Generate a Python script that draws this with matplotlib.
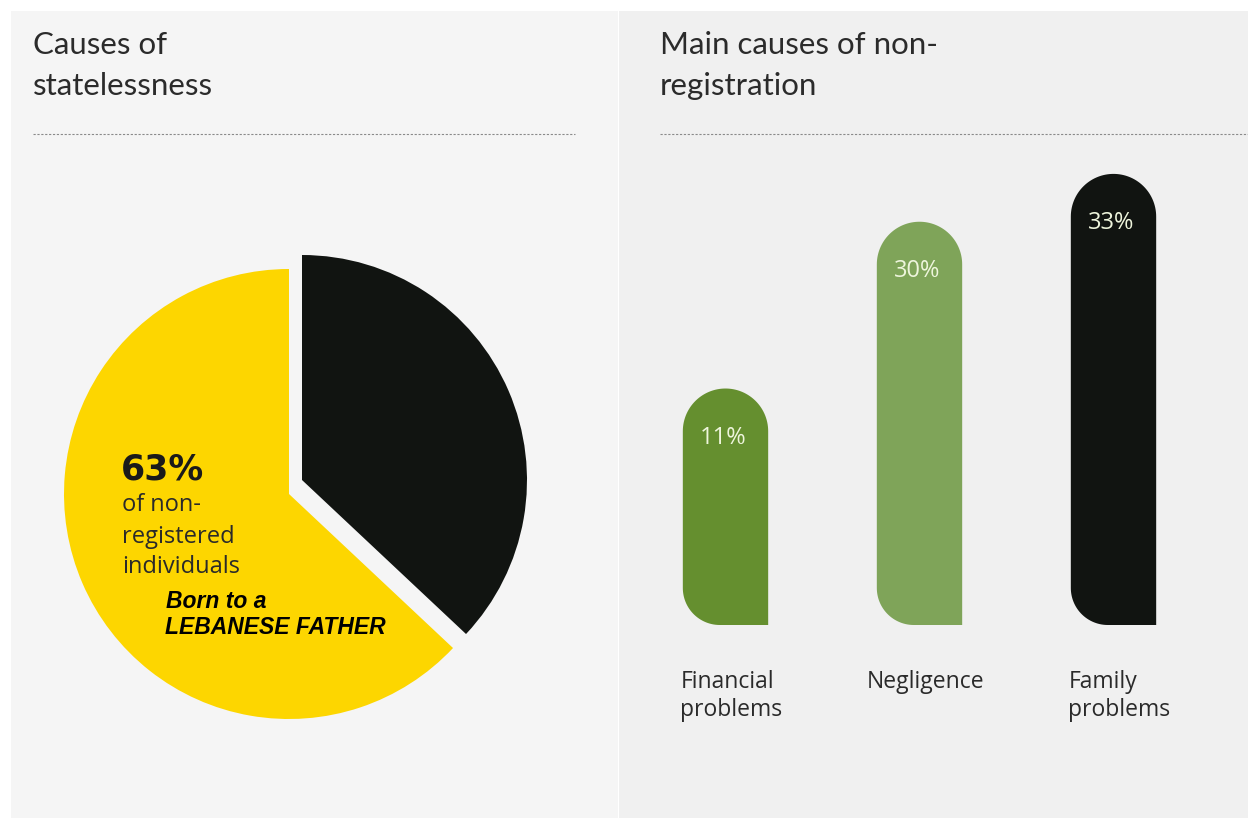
import numpy as np
import matplotlib
matplotlib.use("Agg")
import matplotlib.pyplot as plt
from matplotlib.patches import Rectangle, Polygon
from matplotlib.lines import Line2D

# pie: causes of statelessness
pie_values = [63, 37]
pie_colors = ["#fdd600", "#111411"]

# bars: main causes of non-registration
categories = ["Financial\nproblems", "Negligence", "Family\nproblems"]
bar_labels = ["11%", "30%", "33%"]
bar_lengths = [17.3, 29.5, 33.0]   # drawn lengths as they appear in the picture
bar_colors = ["#658f2f", "#7fa459", "#111411"]

W, H = 1248, 818
fig = plt.figure(figsize=(W / 100, H / 100), dpi=100)
fig.patch.set_facecolor("white")


def fx(px):
    return px / W


def fy(py):
    return 1 - py / H


# panel backgrounds (behind the axes)
fig.patches.append(Rectangle((fx(11), 0), fx(618 - 11), fy(11), transform=fig.transFigure,
                             facecolor="#f5f5f5", edgecolor="none", zorder=-5))
fig.patches.append(Rectangle((fx(619), 0), fx(W - 619), fy(11), transform=fig.transFigure,
                             facecolor="#f0f0f0", edgecolor="none", zorder=-5))

title_kw = dict(fontsize=22.5, color="#2b2b2b", family="Lato", fontweight="normal",
                va="center", ha="left")
fig.text(fx(33), fy(45), "Causes of", **title_kw)
fig.text(fx(33), fy(86), "statelessness", **title_kw)
fig.text(fx(660), fy(45), "Main causes of non-", **title_kw)
fig.text(fx(660), fy(86), "registration", **title_kw)

for x0, x1 in [(33, 575), (660, 1248)]:
    fig.lines.append(Line2D([fx(x0), fx(x1)], [fy(134), fy(134)], transform=fig.transFigure,
                            color="#8a8a8a", lw=0.8, dashes=(2, 1.5)))

# ---- pie ----
cx, cy, R = 289, 494, 225
ax1 = fig.add_axes([fx(cx - 250), fy(cy + 250), 500 / W, 500 / H])
wedges, _ = ax1.pie(pie_values, colors=pie_colors, startangle=90, counterclock=True,
                    radius=R, wedgeprops=dict(linewidth=0))
wedges[1].set_center((13, 14))
ax1.set_xlim(-250, 250)
ax1.set_ylim(-250, 250)
ax1.set_aspect("auto")
ax1.axis("off")

ax1.text(121 - cx, cy - 470, "63%", fontsize=25, fontweight="bold", family="DejaVu Sans",
         color="#1a1a1a", ha="left", va="center")
for txt, py in [("of non-", 505), ("registered", 537), ("individuals", 567)]:
    ax1.text(122 - cx, cy - py, txt, fontsize=17, family="Open Sans", color="#2a2a2a",
             ha="left", va="center")
for txt, px, py in [("Born to a", 166, 602), ("LEBANESE FATHER", 165, 628)]:
    ax1.text(px - cx, cy - py, txt, fontsize=16.5, family="Liberation Sans", fontweight="bold",
             style="italic", color="black", ha="left", va="center")

# ---- bars ----
top_px, bot_px, base_px = 150, 818, 625
ax2 = fig.add_axes([fx(619), fy(bot_px), fx(W - 619), (bot_px - top_px) / H])
sy = 13.67
ax2.set_ylim(-(bot_px - base_px) / sy, (base_px - top_px) / sy)
sx = 194.0
ax2.set_xlim((619 - 725.5) / sx, (W - 725.5) / sx)
ax2.axis("off")

hw = 0.22
rty = hw * sx / sy
rbx, rby = 37 / sx, 37 / sy
t_top = np.linspace(0, np.pi, 60)
t_bl = np.linspace(np.pi, 1.5 * np.pi, 30)

for i, (h, c, lab) in enumerate(zip(bar_lengths, bar_colors, bar_labels)):
    pts = [(i + hw, 0), (i + hw, h - rty)]
    pts += list(zip(i + hw * np.cos(t_top), h - rty + rty * np.sin(t_top)))
    pts += [(i - hw, rby)]
    pts += list(zip(i - hw + rbx + rbx * np.cos(t_bl), rby + rby * np.sin(t_bl)))
    ax2.add_patch(Polygon(pts, closed=True, facecolor=c, edgecolor="none"))
    ax2.text(i - 0.01, h - 3.6, lab, fontsize=17, family="Open Sans", color="#eef5dc",
             ha="center", va="center")
    ax2.text(i + 0.03, -3.3, categories[i], fontsize=16.5, family="Open Sans", color="#2a2a2a",
             ha="center", va="top", multialignment="left", linespacing=1.2)

fig.savefig("out.png", dpi=100, facecolor=fig.get_facecolor())
